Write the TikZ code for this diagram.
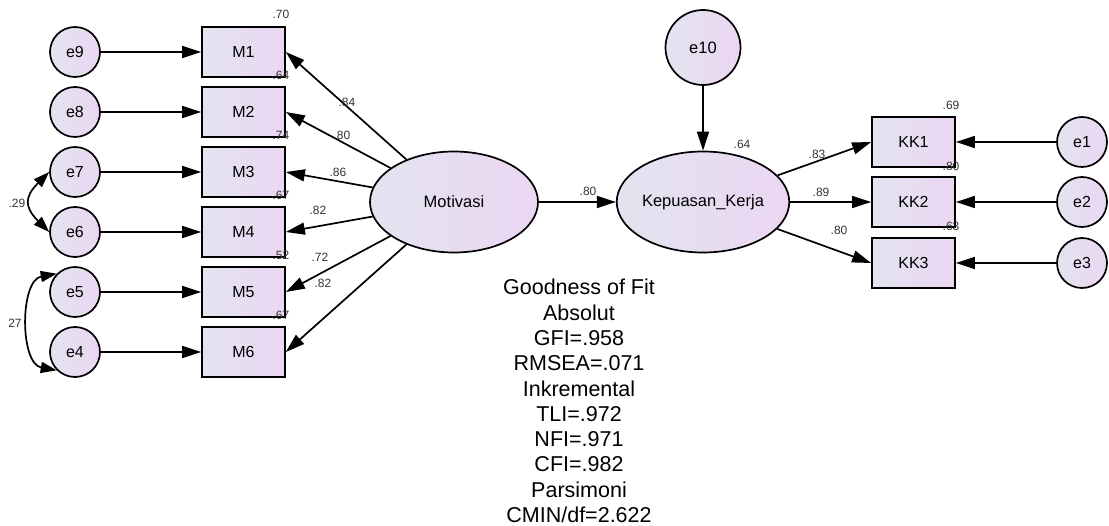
\documentclass[tikz,border=0pt]{standalone}
\usepackage{fontspec}
\setmainfont{Liberation Sans}
\usetikzlibrary{shapes.geometric,arrows.meta}
\definecolor{fillleft}{RGB}{226,228,240}
\definecolor{fillright}{RGB}{236,214,242}
\definecolor{numgrey}{RGB}{51,51,51}

\begin{document}
\begin{tikzpicture}[x=1pt,y=-1pt,
  err/.style={circle, draw=black, line width=1.7pt, left color=fillleft, right color=fillright, minimum size=50pt, inner sep=0pt, font=\fontsize{16}{17}\selectfont},
  obs/.style={rectangle, draw=black, line width=1.7pt, left color=fillleft, right color=fillright, minimum width=83pt, minimum height=50pt, inner sep=0pt, font=\fontsize{16}{17}\selectfont},
  lat/.style={ellipse, draw=black, line width=1.7pt, left color=fillleft, right color=fillright, minimum width=167pt, minimum height=101pt, inner sep=0pt, font=\fontsize{16.5}{17}\selectfont},
  coef/.style={font=\fontsize{12}{13}\selectfont, text=numgrey, inner sep=0pt},
  reg/.style={line width=1.7pt, -{Triangle[length=19pt,width=12pt]}},
  cov/.style={line width=1.7pt, {Triangle[length=16pt,width=11pt]}-{Triangle[length=16pt,width=11pt]}}]
\useasboundingbox (0,0) rectangle (1109,526);
% error terms of Motivasi
\node [err] (e9) at (75,52) {e9};
\node [err] (e8) at (75,112) {e8};
\node [err] (e7) at (75,172) {e7};
\node [err] (e6) at (75,232) {e6};
\node [err] (e5) at (75,292) {e5};
\node [err] (e4) at (75,352) {e4};
% indicators of Motivasi
\node [obs] (m1) at (243.5,52) {M1};
\node [obs] (m2) at (243.5,112) {M2};
\node [obs] (m3) at (243.5,172) {M3};
\node [obs] (m4) at (243.5,232) {M4};
\node [obs] (m5) at (243.5,292) {M5};
\node [obs] (m6) at (243.5,352) {M6};
% latent variables
\node [lat, minimum width=168pt] (mot) at (454,202) {Motivasi};
\node [lat] (kep) at (703,202) {Kepuasan\_Kerja};
\node [err, minimum size=75pt, font=\fontsize{16.5}{17}\selectfont] (e10) at (703,47.5) {e10};
% indicators of Kepuasan_Kerja
\node [obs] (kk1) at (913.5,142) {KK1};
\node [obs] (kk2) at (913.5,202) {KK2};
\node [obs] (kk3) at (913.5,263) {KK3};
\node [err] (e1) at (1082,142) {e1};
\node [err] (e2) at (1082,202) {e2};
\node [err] (e3) at (1082,263) {e3};
% arrows
\draw [reg] (e9) -- (m1);
\draw [reg] (e8) -- (m2);
\draw [reg] (e7) -- (m3);
\draw [reg] (e6) -- (m4);
\draw [reg] (e5) -- (m5);
\draw [reg] (e4) -- (m6);
\draw [reg] (mot) -- (m1.east);
\draw [reg] (mot) -- (m2.east);
\draw [reg] (mot) -- (m3.east);
\draw [reg] (mot) -- (m4.east);
\draw [reg] (mot) -- (m5.east);
\draw [reg] (mot) -- (m6.east);
\draw [reg] (mot) -- (kep);
\draw [reg] (e10) -- (kep);
\draw [reg] (kep) -- (kk1.west);
\draw [reg] (kep) -- (kk2.west);
\draw [reg] (kep) -- (kk3.west);
\draw [reg] (e1) -- (kk1);
\draw [reg] (e2) -- (kk2);
\draw [reg] (e3) -- (kk3);
\draw [cov] (e7.west) to [out=-135, in=135, looseness=1.5] (e6.west);
\draw [cov] (e5.135) to [out=190, in=170] (e4.225);
% squared multiple correlations
\node [coef] (r2m1) at (281,14) {.70};
\node [coef] (r2m2) at (281,75) {.64};
\node [coef] (r2m3) at (281,135) {.74};
\node [coef] (r2m4) at (281,195) {.67};
\node [coef] (r2m5) at (281,255) {.52};
\node [coef] (r2m6) at (281,315) {.67};
\node [coef] (r2kep) at (742,144) {.64};
\node [coef] (r2kk1) at (951,105) {.69};
\node [coef] (r2kk2) at (951,166) {.80};
\node [coef] (r2kk3) at (951,226) {.63};
% loadings and correlations
\node [coef] (lm1) at (347,102) {.84};
\node [coef] (lm2) at (342,135) {.80};
\node [coef] (lm3) at (338,172) {.86};
\node [coef] (lm4) at (318,210) {.82};
\node [coef] (lm5) at (320,257) {.72};
\node [coef] (lm6) at (323,283) {.82};
\node [coef] (bmot) at (588,191) {.80};
\node [coef] (lkk1) at (817,154) {.83};
\node [coef] (lkk2) at (821,192) {.89};
\node [coef] (lkk3) at (839,230) {.80};
\node [coef] (c76) at (17,203) {.29};
\node [coef] (c54) at (15,323) {27};
% fit indices
\node [align=center, inner sep=0pt, font=\fontsize{21.5}{25.3}\selectfont] (fit) at (579,401)
  {Goodness of Fit\\Absolut\\GFI=.958\\RMSEA=.071\\Inkremental\\TLI=.972\\NFI=.971\\CFI=.982\\Parsimoni\\CMIN/df=2.622};
\end{tikzpicture}
\end{document}
